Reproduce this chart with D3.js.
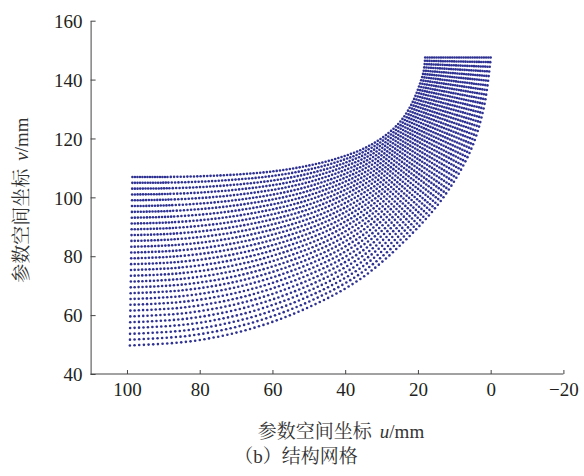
<!DOCTYPE html>
<html><head><meta charset="utf-8">
<script src="https://cdn.jsdelivr.net/npm/d3@7/dist/d3.min.js"></script>
<style>
body{margin:0;background:#fff;}
svg{display:block;}
</style></head>
<body>
<svg id="chart" width="584" height="476"></svg>
<script>
// ---- data ----
const xTicks = [100, 80, 60, 40, 20, 0, -20];
const yTicks = [40, 60, 80, 100, 120, 140, 160];
// inner (upper-left) boundary of the structured grid, u/v in mm
const innerU = [98.5, 85, 72, 60, 50, 42, 35, 29.5, 25, 21.8, 19.6, 18.4, 18];
const innerV = [106.9, 107, 107.6, 108.8, 110.8, 113.3, 116.5, 120.5, 125.5, 131.5, 138, 143, 147.5];
// outer (lower-right) boundary of the structured grid, u/v in mm
const outerU = [99.2, 81.9, 65.3, 49.8, 35.7, 23, 13, 5.5, 1.8, 0];
const outerV = [49.7, 51.2, 55.6, 62.8, 72.4, 86, 100, 116, 131, 147.5];
const nCols = 110;        // grid lines across the band
const nRows = 30;         // nodes along each grid line
const clusterCols = 14;   // first grid lines crowded on the inner boundary
const clusterFrac = 0.10; // share of inner boundary length they occupy

const svg = d3.select("#chart");
const x = d3.scaleLinear().domain([110, -20]).range([90.6, 563.4]);
const y = d3.scaleLinear().domain([40, 160]).range([374, 20.7]);

const serif = "'Liberation Serif','Times New Roman',serif";
const cjk = "'Liberation Serif','Noto Serif CJK SC','Noto Sans CJK SC',serif";

// axes
const gx = svg.append("g").attr("transform", `translate(0,${y(40)})`)
  .call(d3.axisBottom(x).tickValues(xTicks).tickSizeInner(-4).tickSizeOuter(0).tickPadding(9)
    .tickFormat(d => d < 0 ? "\u2212" + Math.abs(d) : d));
gx.select(".domain").attr("d", `M${x(110)},0H${x(-20)}`);
const gy = svg.append("g").attr("transform", `translate(${x(110)},0)`)
  .call(d3.axisLeft(y).tickValues(yTicks).tickSizeInner(-5).tickSizeOuter(0).tickPadding(8));
[gx, gy].forEach(g => {
  g.select(".domain").attr("stroke", "#444").attr("stroke-width", 1);
  g.selectAll(".tick line").attr("stroke", "#444");
  g.selectAll(".tick text").attr("font-family", serif).attr("font-size", 19).attr("fill", "#231f20");
});
gy.selectAll(".tick text").attr("dy", "0.35em");

// boundaries as curves through the read points
const line = d3.line().x(d => x(d[0])).y(d => y(d[1])).curve(d3.curveCatmullRom.alpha(0.5));
const inner = innerU.map((u, i) => [u, innerV[i]]);
const outer = outerU.map((u, i) => [u, outerV[i]]);
const pIn = svg.append("path").attr("d", line(inner)).attr("fill", "none").attr("stroke", "none").node();
const pOut = svg.append("path").attr("d", line(outer)).attr("fill", "none").attr("stroke", "none").node();
const LIn = pIn.getTotalLength(), LOut = pOut.getTotalLength();
const inPos = d3.scaleLinear().domain([0, clusterCols, nCols - 1]).range([0, clusterFrac, 1]);

const nodes = [];
for (let j = 0; j < nCols; j++) {
  const a = pIn.getPointAtLength(inPos(j) * LIn);
  const b = pOut.getPointAtLength(j / (nCols - 1) * LOut);
  for (let k = 0; k < nRows; k++) {
    const t = k / (nRows - 1);
    nodes.push([a.x + (b.x - a.x) * t, a.y + (b.y - a.y) * t]);
  }
}
svg.append("g").selectAll("circle").data(nodes).join("circle")
  .attr("cx", d => d[0]).attr("cy", d => d[1]).attr("r", 1.3).attr("fill", "#2e3192");

// labels
const yl = svg.append("text").attr("transform", "translate(28,200) rotate(-90)")
  .attr("text-anchor", "middle").attr("font-family", cjk).attr("font-size", 19).attr("fill", "#333");
yl.append("tspan").text("参数空间坐标");
yl.append("tspan").attr("dx", 8).attr("font-style", "italic").attr("font-family", serif).text("v");
yl.append("tspan").attr("font-family", serif).text("/mm");

const xl = svg.append("text").attr("x", 341).attr("y", 438)
  .attr("text-anchor", "middle").attr("font-family", cjk).attr("font-size", 19).attr("fill", "#333");
xl.append("tspan").text("参数空间坐标");
xl.append("tspan").attr("dx", 8).attr("font-style", "italic").attr("font-family", serif).text("u");
xl.append("tspan").attr("font-family", serif).text("/mm");

svg.append("text").attr("x", 296).attr("y", 463).attr("text-anchor", "middle")
  .attr("font-family", cjk).attr("font-size", 19).attr("fill", "#333").text("（b）结构网格");
</script>
</body></html>
